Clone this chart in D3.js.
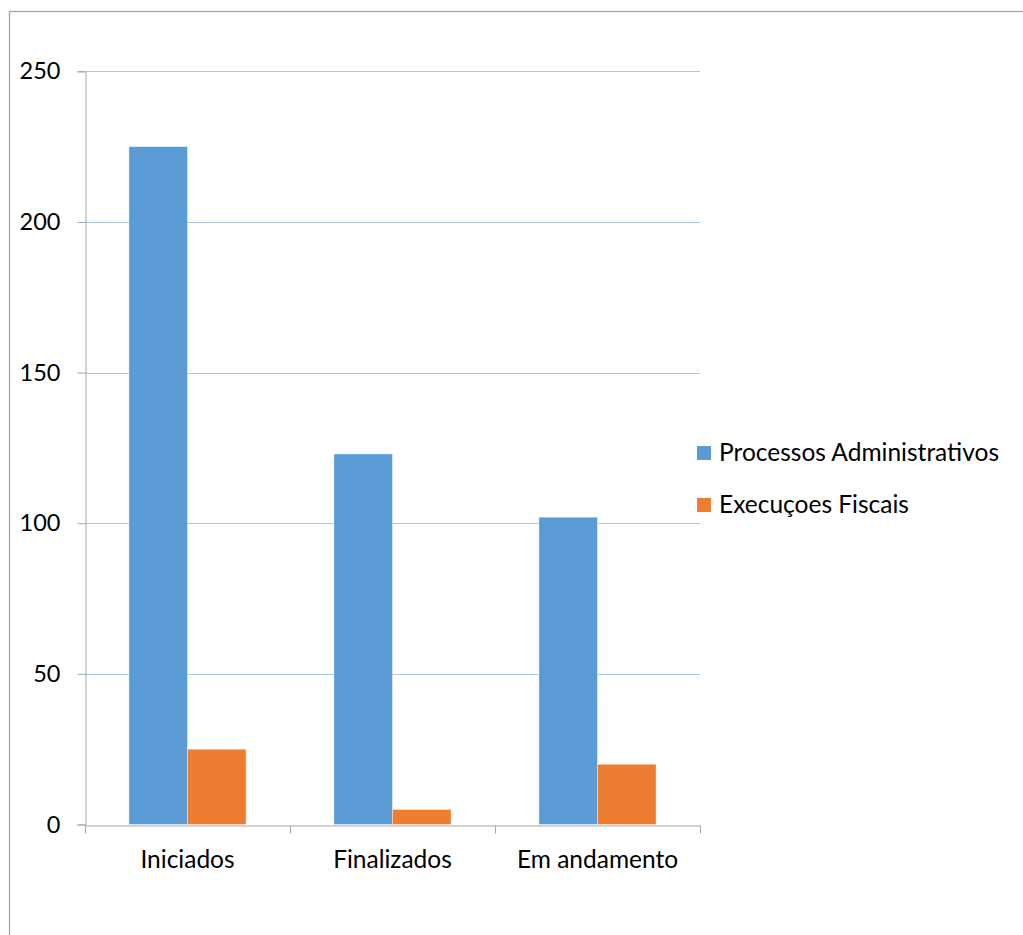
<!DOCTYPE html>
<html>
<head>
<meta charset="utf-8">
<script src="https://cdn.jsdelivr.net/npm/d3@7"></script>
<style>
html, body { margin: 0; padding: 0; background: #fff; }
svg { display: block; }
text { font-family: Lato, "Liberation Sans", sans-serif; fill: #000; }
</style>
</head>
<body>
<svg id="chart" width="1023" height="935"></svg>
<script>
const categories = ["Iniciados", "Finalizados", "Em andamento"];
const seriesNames = ["Processos Administrativos", "Execuçoes Fiscais"];
const processosAdministrativos = [225, 123, 102];
const execucoesFiscais = [25, 5, 20];
const yTicks = [0, 50, 100, 150, 200, 250];
const seriesColors = ["#5B9BD5", "#ED7D31"];

const svg = d3.select("#chart");
const W = 1023, H = 935;

// outer border
svg.append("rect")
  .attr("x", 9.5).attr("y", 11.5)
  .attr("width", W + 20).attr("height", H + 20)
  .attr("fill", "none").attr("stroke", "#A6A6A6").attr("stroke-width", 1.3);

const plot = { left: 85, right: 700, top: 71.3, bottom: 824.5 };

const y = d3.scaleLinear().domain([0, 250]).range([plot.bottom, plot.top]);
const x0 = d3.scaleBand().domain(categories).range([plot.left, plot.right])
  .paddingInner(0).paddingOuter(0);
// gap width 150% -> padding so bar group = 2 bars, gap = 1.5 bars
const x1 = d3.scaleBand().domain(seriesNames).range([0, x0.bandwidth()])
  .paddingInner(0).paddingOuter(0.75);

// gridlines
svg.append("g").selectAll("line").data(yTicks.filter(d => d > 0)).join("line")
  .attr("x1", plot.left).attr("x2", plot.right)
  .attr("y1", d => Math.round(y(d)) + 0.5).attr("y2", d => Math.round(y(d)) + 0.5)
  .attr("stroke", "#A9C9EC").attr("stroke-width", 1);

// bars
const data = categories.map((c, i) => ({
  cat: c,
  vals: [
    { s: seriesNames[0], v: processosAdministrativos[i], c: seriesColors[0] },
    { s: seriesNames[1], v: execucoesFiscais[i], c: seriesColors[1] }
  ]
}));

svg.append("g").selectAll("g").data(data).join("g")
  .attr("transform", d => `translate(${x0(d.cat)},0)`)
  .selectAll("rect").data(d => d.vals).join("rect")
  .attr("x", d => x1(d.s))
  .attr("width", x1.bandwidth())
  .attr("y", d => y(d.v))
  .attr("height", d => y(0) - y(d.v))
  .attr("fill", d => d.c)
  .attr("stroke", "#ffffff").attr("stroke-opacity", 0.5).attr("stroke-width", 0.8);

// y axis
const yAxis = d3.axisLeft(y).tickValues(yTicks).tickSize(8).tickPadding(17).tickFormat(d3.format("d"));
const gy = svg.append("g").attr("transform", `translate(${plot.left + 0.5},0)`).call(yAxis);
gy.select(".domain").attr("stroke", "#A6A6A6");
gy.selectAll(".tick line").attr("stroke", "#A6A6A6");
gy.selectAll(".tick text").attr("font-size", "23.5px").attr("font-family", "Lato, sans-serif").attr("fill", "#000");

// x axis
const xAxis = d3.axisBottom(x0).tickSize(0).tickPadding(0);
const gx = svg.append("g").attr("transform", `translate(0,${Math.round(plot.bottom) + 0.5})`).call(xAxis);
gx.select(".domain").attr("stroke", "#A6A6A6");
gx.selectAll(".tick text").attr("font-size", "24.5px").attr("font-family", "Lato, sans-serif")
  .attr("fill", "#000").attr("dy", "0").attr("y", 42);
// category boundary ticks
const bounds = [plot.left].concat(categories.map(c => x0(c) + x0.bandwidth()));
gx.selectAll(".bound").data(bounds).join("line").attr("class", "bound")
  .attr("x1", d => Math.round(d) + 0.5).attr("x2", d => Math.round(d) + 0.5)
  .attr("y1", 0).attr("y2", 8).attr("stroke", "#A6A6A6");

// legend
const legend = svg.append("g").attr("transform", "translate(697,446)");
const li = legend.selectAll("g").data(seriesNames).join("g")
  .attr("transform", (d, i) => `translate(0,${i * 52})`);
li.append("rect").attr("width", 14).attr("height", 14)
  .attr("fill", (d, i) => seriesColors[i]);
li.append("text").attr("x", 22).attr("y", 15).attr("font-size", "24.5px").text(d => d);
</script>
</body>
</html>
